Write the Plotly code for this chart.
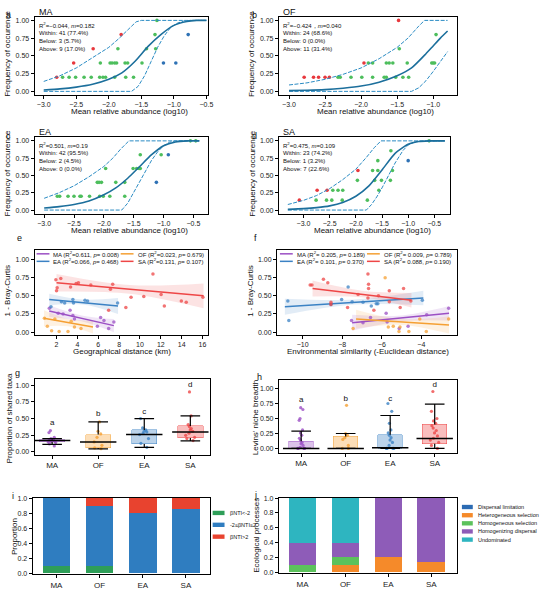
import plotly.graph_objects as go

W, H = 550, 595
FONT = "Liberation Sans, Arial, sans-serif"

# ---------------- data: a-d neutral community model ----------------
A_FIT_X = [-3.0, -2.75, -2.5, -2.25, -2.0, -1.8, -1.6, -1.4, -1.2, -1.0, -0.8, -0.65, -0.5]
A_FIT_Y = [0.02, 0.035, 0.06, 0.10, 0.17, 0.26, 0.42, 0.63, 0.80, 0.93, 0.985, 1.0, 1.0]
A_UP_X = [-3.0, -2.75, -2.5, -2.25, -2.0, -1.85, -1.7, -1.58, -1.5, -0.5]
A_UP_Y = [0.14, 0.22, 0.33, 0.47, 0.62, 0.74, 0.88, 0.98, 1.0, 1.0]
A_LO_X = [-3.0, -1.65, -1.55, -1.45, -1.35, -1.25, -1.15, -1.05, -0.95, -0.85, -0.75, -0.5]
A_LO_Y = [0.0, 0.0, 0.07, 0.22, 0.42, 0.62, 0.78, 0.90, 0.96, 0.99, 1.0, 1.0]
A_ABOVE_X = [-2.80, -2.54, -2.24, -1.81]
A_ABOVE_Y = [0.2, 0.4, 0.6, 0.8]
A_WITHIN_X = [-2.71, -2.61, -2.51, -2.38, -2.27, -2.14, -2.09, -2.05, -1.91, -1.74, -1.62,
              -2.13, -1.98, -1.95, -1.91, -1.88, -1.75, -1.71, -1.49,
              -1.86, -1.42, -1.28, -1.29, -1.26]
A_WITHIN_Y = [0.2] * 11 + [0.4] * 8 + [0.6, 0.6, 0.6, 0.8, 1.0]
A_BELOW_X = [-1.16, -0.97, -0.78]
A_BELOW_Y = [0.4, 0.4, 0.8]
A_STATS = ["R<sup>2</sup>=−0.044, <i>m</i>=0.182", "Within: 41 (77.4%)", "Below: 3 (5.7%)", "Above: 9 (17.0%)"]

B_FIT_X = [-3.0, -2.75, -2.5, -2.25, -2.0, -1.75, -1.5, -1.3, -1.1, -1.0, -0.9, -0.8]
B_FIT_Y = [0.01, 0.015, 0.025, 0.045, 0.075, 0.13, 0.22, 0.33, 0.53, 0.64, 0.75, 0.85]
B_UP_X = [-3.0, -2.75, -2.5, -2.25, -2.0, -1.75, -1.5, -1.35, -1.2, -1.12, -0.8]
B_UP_Y = [0.09, 0.12, 0.17, 0.24, 0.33, 0.46, 0.62, 0.75, 0.92, 1.0, 1.0]
B_LO_X = [-3.0, -1.3, -1.2, -1.1, -1.0, -0.9, -0.8]
B_LO_Y = [0.0, 0.0, 0.05, 0.15, 0.28, 0.42, 0.56]
B_ABOVE_X = [-2.79, -2.66, -2.59, -2.50, -2.44, -1.96, -1.48]
B_ABOVE_Y = [0.2, 0.2, 0.2, 0.2, 0.2, 0.4, 1.0]
B_WITHIN_X = [-2.32, -2.29, -2.14, -1.99, -1.84, -1.68, -1.65, -1.52, -1.42, -1.34,
              -1.90, -1.84, -1.65, -1.61, -1.56, -1.36, -1.02, -1.0, -0.98,
              -1.47, -0.96]
B_WITHIN_Y = [0.2] * 10 + [0.4] * 9 + [0.6, 0.8]
B_BELOW_X = []
B_BELOW_Y = []
B_STATS = ["R<sup>2</sup>=−0.424，<i>m</i>=0.040", "Within: 24 (68.6%)", "Below: 0 (0.0%)", "Above: 11 (31.4%)"]

C_FIT_X = [-3.0, -2.75, -2.5, -2.25, -2.0, -1.8, -1.6, -1.4, -1.2, -1.0, -0.8, -0.6, -0.4]
C_FIT_Y = [0.03, 0.05, 0.08, 0.13, 0.22, 0.32, 0.46, 0.63, 0.80, 0.93, 0.985, 1.0, 1.0]
C_UP_X = [-3.0, -2.75, -2.5, -2.25, -2.0, -1.85, -1.72, -1.62, -1.58, -0.4]
C_UP_Y = [0.17, 0.25, 0.35, 0.48, 0.63, 0.75, 0.88, 0.97, 1.0, 1.0]
C_LO_X = [-3.0, -1.7, -1.6, -1.5, -1.4, -1.3, -1.2, -1.1, -1.0, -0.9, -0.8, -0.4]
C_LO_Y = [0.0, 0.0, 0.1, 0.25, 0.41, 0.57, 0.72, 0.84, 0.93, 0.98, 1.0, 1.0]
C_ABOVE_X = []
C_ABOVE_Y = []
C_WITHIN_X = [-2.78, -2.74, -2.60, -2.50, -2.40, -2.38, -2.24, -2.07, -2.01, -1.90, -1.65,
              -2.11, -2.08, -2.04, -1.80, -1.65,
              -1.97, -1.51, -1.45, -1.41, -1.39,
              -1.39, -1.04, -0.55, -0.46]
C_WITHIN_Y = [0.2] * 11 + [0.4] * 5 + [0.6] * 5 + [0.8, 0.8, 1.0, 1.0]
C_BELOW_X = [-1.12, -0.92]
C_BELOW_Y = [0.4, 0.8]
C_STATS = ["R<sup>2</sup>=0.501, <i>m</i>=0.19", "Within: 42 (95.5%)", "Below: 2 (4.5%)", "Above: 0 (0.0%)"]

D_FIT_X = [-3.3, -3.0, -2.75, -2.5, -2.25, -2.0, -1.75, -1.5, -1.25, -1.0, -0.8, -0.6, -0.3]
D_FIT_Y = [0.01, 0.02, 0.035, 0.06, 0.11, 0.2, 0.35, 0.58, 0.82, 0.95, 0.99, 1.0, 1.0]
D_UP_X = [-3.3, -3.0, -2.75, -2.5, -2.25, -2.0, -1.8, -1.65, -1.52, -0.3]
D_UP_Y = [0.08, 0.14, 0.21, 0.31, 0.44, 0.59, 0.76, 0.9, 1.0, 1.0]
D_LO_X = [-3.3, -1.8, -1.7, -1.6, -1.5, -1.4, -1.25, -1.1, -1.0, -0.85, -0.3]
D_LO_Y = [0.0, 0.0, 0.08, 0.19, 0.32, 0.46, 0.68, 0.86, 0.94, 0.99, 1.0]
D_ABOVE_X = [-3.08, -2.74, -2.55, -1.96]
D_ABOVE_Y = [0.143, 0.286, 0.286, 0.571]
D_WITHIN_X = [-2.76, -2.56, -2.46, -2.26, -1.78,
              -2.44, -2.34, -2.25, -1.56,
              -1.97, -1.64, -1.51, -1.34,
              -1.68, -1.58, -1.30,
              -1.58, -1.33, -0.6]
D_WITHIN_Y = [0.143] * 5 + [0.286] * 4 + [0.429] * 4 + [0.571] * 3 + [0.714, 0.857, 1.0]
D_BELOW_X = [-1.0]
D_BELOW_Y = [0.714]
D_STATS = ["R<sup>2</sup>=0.475, <i>m</i>=0.109", "Within: 23 (74.2%)", "Below: 1 (3.2%)", "Above: 7 (22.6%)"]

# ---------------- data: e, f distance decay ----------------
GROUPS = ["MA", "OF", "EA", "SA"]
GROUP_RGB = [(155, 79, 196), (245, 160, 51), (59, 130, 196), (238, 70, 70)]

E_PTS_X = [
    [1.31, 2.16, 2.63, 3.3, 3.57, 3.72, 5.92, 6.23, 6.55, 7.0, 7.5],
    [0.84, 1.12, 1.53, 1.84, 2.25, 3.1, 3.41, 3.72, 4.35],
    [1.47, 2.47, 2.78, 3.57, 3.63, 4.73, 4.98, 7.86],
    [1.94, 2.41, 2.06, 2.0, 3.35, 3.88, 4.1, 5.29, 7.17, 7.39, 7.0, 8.65, 9.15, 10.37,
     11.25, 12.03, 12.34, 13.97, 14.44, 16.04],
]
E_PTS_Y = [
    [0.33, 0.26, 0.25, 0.30, 0.23, 0.18, 0.08, 0.20, 0.16, 0.05, 0.14],
    [0.19, 0.08, 0.02, 0.18, 0.01, 0.01, 0.15, 0.07, 0.05],
    [0.35, 0.42, 0.40, 0.45, 0.40, 0.44, 0.43, 0.40],
    [0.72, 0.74, 0.61, 0.57, 0.62, 0.67, 0.68, 0.65, 0.59, 0.66, 0.30, 0.34, 0.48, 0.49,
     0.80, 0.52, 0.36, 0.43, 0.41, 0.48],
]
E_LINE_X = [[1.3, 7.5], [0.8, 5.5], [1.3, 7.9], [2.0, 16.1]]
E_LINE_Y = [[0.29, 0.09], [0.19, 0.07], [0.45, 0.36], [0.68, 0.50]]
E_BAND_X = [[1.3, 4.4, 7.5], [0.8, 3.1, 5.5], [1.3, 4.5, 7.9], [2.0, 9.0, 16.1]]
E_BAND_LO = [[0.21, 0.15, 0.0], [0.08, 0.08, -0.02], [0.37, 0.38, 0.25], [0.56, 0.53, 0.33]]
E_BAND_HI = [[0.37, 0.23, 0.18], [0.30, 0.18, 0.16], [0.53, 0.45, 0.47], [0.80, 0.65, 0.67]]
E_LEGEND = ["MA (R<sup>2</sup>=0.611, <i>p</i>= 0.008)", "OF (R<sup>2</sup>=0.023, <i>p</i>= 0.679)",
            "EA (R<sup>2</sup>=0.066, <i>p</i>= 0.468)", "SA (R<sup>2</sup>=0.131, <i>p</i>= 0.107)"]

F_PTS_X = [
    [-7.53, -6.95, -6.57, -5.78, -5.73, -5.12, -4.67, -3.73, -2.62],
    [-7.45, -5.83, -5.67, -5.42, -5.08, -5.13, -4.63, -4.08, -3.75, -2.62],
    [-10.75, -10.7, -8.57, -8.03, -7.7, -7.5, -6.95, -6.53, -6.28, -6.2, -3.95],
    [-9.62, -9.53, -8.95, -8.73, -8.57, -8.57, -7.73, -7.2, -6.7, -6.67, -6.67, -6.7,
     -6.4, -6.17, -5.62, -5.62, -5.07, -4.9, -4.53],
]
F_PTS_Y = [
    [0.16, 0.13, 0.20, 0.26, 0.14, 0.05, 0.08, 0.24, 0.33],
    [0.05, 0.75, 0.07, 0.08, 0.07, 0.01, 0.01, 0.18, 0.01, 0.18],
    [0.43, 0.16, 0.38, 0.45, 0.62, 0.42, 0.41, 0.36, 0.39, 0.39, 0.44],
    [0.65, 0.65, 0.73, 0.68, 0.41, 0.38, 0.34, 0.52, 0.80, 0.66, 0.60, 0.47,
     0.30, 0.50, 0.57, 0.42, 0.34, 0.60, 0.43],
]
F_LINE_X = [[-7.5, -2.6], [-7.3, -2.6], [-10.9, -3.9], [-9.5, -4.5]]
F_LINE_Y = [[0.13, 0.26], [0.18, 0.10], [0.35, 0.47], [0.60, 0.44]]
F_BAND_X = [[-7.5, -5.0, -2.6], [-7.3, -5.0, -2.6], [-10.9, -7.4, -3.9], [-9.5, -7.0, -4.5]]
F_BAND_LO = [[0.02, 0.15, 0.16], [0.05, 0.10, -0.02], [0.24, 0.38, 0.37], [0.49, 0.48, 0.34]]
F_BAND_HI = [[0.24, 0.23, 0.36], [0.31, 0.18, 0.22], [0.46, 0.45, 0.57], [0.71, 0.57, 0.54]]
F_LEGEND = ["MA (R<sup>2</sup>= 0.205, <i>p</i>= 0.189)", "OF (R<sup>2</sup>= 0.009, <i>p</i>= 0.789)",
            "EA (R<sup>2</sup>= 0.101, <i>p</i>= 0.370)", "SA (R<sup>2</sup>= 0.088, <i>p</i>= 0.190)"]

# ---------------- data: g, h box plots ----------------
G_Q1 = [0.15, 0.06, 0.12, 0.21]
G_MED = [0.17, 0.15, 0.26, 0.30]
G_Q3 = [0.185, 0.26, 0.33, 0.39]
G_LO = [0.115, 0.045, 0.07, 0.165]
G_HI = [0.20, 0.45, 0.50, 0.54]
G_PTS = [
    [0.32, 0.29, 0.22, 0.20, 0.19, 0.18, 0.18, 0.17, 0.17, 0.16, 0.16, 0.15, 0.14, 0.12, 0.09],
    [0.45, 0.31, 0.27, 0.22, 0.15, 0.10, 0.06, 0.05],
    [0.50, 0.36, 0.33, 0.31, 0.30, 0.28, 0.26, 0.20, 0.13, 0.07],
    [0.90, 0.54, 0.41, 0.38, 0.35, 0.33, 0.31, 0.28, 0.25, 0.22, 0.20, 0.17],
]
G_LETTER_Y = [0.44, 0.57, 0.60, 1.0]

H_Q1 = [0.0, 0.0, 0.0, 0.08]
H_MED = [0.0, 0.0, 0.01, 0.165]
H_Q3 = [0.12, 0.20, 0.23, 0.40]
H_LO = [0.0, 0.0, 0.0, 0.0]
H_HI = [0.29, 0.25, 0.55, 0.74]
H_PTS = [
    [0.68, 0.65, 0.50, 0.47, 0.31, 0.26, 0.22, 0.17, 0.14, 0.10, 0.08, 0.05, 0.02, 0.0, 0.0, 0.0, 0.0],
    [0.72, 0.25, 0.22, 0.18, 0.15, 0.05, 0.0, 0.0],
    [0.75, 0.62, 0.42, 0.31, 0.26, 0.22, 0.18, 0.14, 0.10, 0.05, 0.0, 0.0, 0.0, 0.0],
    [0.95, 0.62, 0.50, 0.46, 0.42, 0.38, 0.34, 0.30, 0.26, 0.21, 0.17, 0.14, 0.10, 0.05, 0.0],
]
H_LETTER_Y = [0.80, 0.82, 0.82, 1.06]
LETTERS = ["a", "b", "c", "d"]

# ---------------- data: i, j stacked bars ----------------
I_NAMES = ["βNTI<-2", "-2≤βNTI≤2", "βNTI>2"]
I_COLORS = ["#2E9E58", "#2F7DC0", "#E8432F"]
I_VALUES = [
    [0.1, 0.1, 0.0, 0.0],
    [0.9, 0.8, 0.8, 0.86],
    [0.0, 0.1, 0.2, 0.14],
]
J_NAMES = ["Dispersal limitation", "Heterogeneous selection", "Homogeneous selection",
           "Homogenizing dispersal", "Undominated"]
J_COLORS = ["#2C6BB3", "#F58A2A", "#5CC25C", "#8E5CB8", "#2EB5C0"]
J_VALUES = [
    [0.0, 0.0, 0.0, 0.0],
    [0.0, 0.1, 0.2, 0.14],
    [0.1, 0.1, 0.0, 0.0],
    [0.3, 0.2, 0.8, 0.86],
    [0.6, 0.6, 0.0, 0.0],
]

RED, GREEN, BLUE = "#E8383D", "#4DBE5C", "#2F72B5"
FIT, BOUND = "#1C6F9C", "#2B8CC4"


def rgba(c, a):
    return "rgba(%d,%d,%d,%.2f)" % (c[0], c[1], c[2], a)


GROUP_COLORS = [rgba(c, 1) for c in GROUP_RGB]

fig = go.Figure()
annotations = []
shapes = []
axes = {}


def px(x, y):
    return x / W, 1 - y / H


def text(x, y, s, size=7, xanchor="center", yanchor="middle", angle=0):
    X, Y = px(x, y)
    annotations.append(dict(x=X, y=Y, xref="paper", yref="paper", text=s, showarrow=False,
                            xanchor=xanchor, yanchor=yanchor, textangle=angle, align="left",
                            font=dict(size=size, color="#111", family=FONT)))


def ids(k):
    return ("x", "y") if k == 1 else (f"x{k}", f"y{k}")


def add_axes(k, box, xr, yr, xkw=None, ykw=None):
    l, t, r, b = box
    xa, ya = ids(k)
    common = dict(showline=True, linecolor="black", linewidth=1, mirror=True, ticks="outside",
                  ticklen=3, tickwidth=0.8, tickcolor="black", showgrid=False, zeroline=False,
                  tickfont=dict(size=7, family=FONT, color="#222"))
    xd = dict(common)
    xd.update(xkw or {})
    yd = dict(common)
    yd.update(ykw or {})
    axes["xaxis" if k == 1 else f"xaxis{k}"] = dict(domain=[l / W, r / W], range=xr, anchor=ya, **xd)
    axes["yaxis" if k == 1 else f"yaxis{k}"] = dict(domain=[1 - b / H, 1 - t / H], range=yr, anchor=xa, **yd)


FREQ_TICKS = dict(tickvals=[0, 0.25, 0.5, 0.75, 1.0], tickformat=".2f")

# ---------------- a-d ----------------
ncm_panels = [
    (1, "MA", (35, 13, 210, 92), [-3.14, -0.48], [-3.0, -2.5, -2.0, -1.5, -1.0, -0.5],
     A_FIT_X, A_FIT_Y, A_UP_X, A_UP_Y, A_LO_X, A_LO_Y,
     A_ABOVE_X, A_ABOVE_Y, A_WITHIN_X, A_WITHIN_Y, A_BELOW_X, A_BELOW_Y, A_STATS),
    (2, "OF", (282, 13, 462, 92), [-3.14, -0.67], [-3.0, -2.5, -2.0, -1.5, -1.0],
     B_FIT_X, B_FIT_Y, B_UP_X, B_UP_Y, B_LO_X, B_LO_Y,
     B_ABOVE_X, B_ABOVE_Y, B_WITHIN_X, B_WITHIN_Y, B_BELOW_X, B_BELOW_Y, B_STATS),
    (3, "EA", (35, 135, 210, 212), [-3.16, -0.26], [-3.0, -2.5, -2.0, -1.5, -1.0, -0.5],
     C_FIT_X, C_FIT_Y, C_UP_X, C_UP_Y, C_LO_X, C_LO_Y,
     C_ABOVE_X, C_ABOVE_Y, C_WITHIN_X, C_WITHIN_Y, C_BELOW_X, C_BELOW_Y, C_STATS),
    (4, "SA", (282, 135, 455, 212), [-3.47, -0.2], [-3.0, -2.5, -2.0, -1.5, -1.0, -0.5],
     D_FIT_X, D_FIT_Y, D_UP_X, D_UP_Y, D_LO_X, D_LO_Y,
     D_ABOVE_X, D_ABOVE_Y, D_WITHIN_X, D_WITHIN_Y, D_BELOW_X, D_BELOW_Y, D_STATS),
]

for (k, name, box, xr, xt, fx, fy, ux, uy, lx, ly, ax_, ay_, wx, wy, bx, by, stats) in ncm_panels:
    xa, ya = ids(k)
    add_axes(k, box, xr, [-0.05, 1.05], dict(tickvals=xt, tickformat=".1f"), FREQ_TICKS)
    for cx, cy, col in ((wx, wy, GREEN), (ax_, ay_, RED), (bx, by, BLUE)):
        fig.add_trace(go.Scatter(x=cx, y=cy, mode="markers", xaxis=xa, yaxis=ya, showlegend=False,
                                 marker=dict(color=col, size=3.6)))
    fig.add_trace(go.Scatter(x=ux, y=uy, mode="lines", xaxis=xa, yaxis=ya, showlegend=False,
                             line=dict(color=BOUND, width=1, dash="4px,1.5px")))
    fig.add_trace(go.Scatter(x=lx, y=ly, mode="lines", xaxis=xa, yaxis=ya, showlegend=False,
                             line=dict(color=BOUND, width=1, dash="4px,1.5px")))
    fig.add_trace(go.Scatter(x=fx, y=fy, mode="lines", xaxis=xa, yaxis=ya, showlegend=False,
                             line=dict(color=FIT, width=1.6, shape="spline", smoothing=0.6)))
    l, t, r, b = box
    text(l + 2, t - 5, name, size=9, xanchor="left")
    text(l + 2, t + 2, "<br>".join(stats), size=6, xanchor="left", yanchor="top")
    text((l + r) / 2 + 8, b + 17, "Mean relative abundance (log10)", size=8)
    text(l - 27, (t + b) / 2 - 2, "Frequency of occurence", size=8, angle=-90)

# ---------------- e, f ----------------
decay_panels = [
    (5, (35, 249, 210, 335), [-0.1, 16.5], [2, 4, 6, 8, 10, 12, 14, 16],
     E_PTS_X, E_PTS_Y, E_LINE_X, E_LINE_Y, E_BAND_X, E_BAND_LO, E_BAND_HI, E_LEGEND,
     "Geographical distance (km)", (37, 122)),
    (6, (280, 249, 462, 335), [-11.3, -2.2], [-10, -8, -6, -4],
     F_PTS_X, F_PTS_Y, F_LINE_X, F_LINE_Y, F_BAND_X, F_BAND_LO, F_BAND_HI, F_LEGEND,
     "Environmental similarity (-Euclidean distance)", (283, 371)),
]
for (k, box, xr, xt, ptx, pty, lnx, lny, bdx, bdlo, bdhi, leg, xtitle, legx) in decay_panels:
    xa, ya = ids(k)
    add_axes(k, box, xr, [-0.04, 1.13], dict(tickvals=xt), FREQ_TICKS)
    for g in range(4):
        col = GROUP_COLORS[g]
        fig.add_trace(go.Scatter(x=bdx[g], y=bdlo[g], mode="lines", xaxis=xa, yaxis=ya, showlegend=False,
                                 line=dict(width=0, shape="spline", color=col)))
        fig.add_trace(go.Scatter(x=bdx[g], y=bdhi[g], mode="lines", xaxis=xa, yaxis=ya, showlegend=False,
                                 fill="tonexty", fillcolor=rgba(GROUP_RGB[g], 0.15),
                                 line=dict(width=0, shape="spline", color=col)))
    for g in range(4):
        col = GROUP_COLORS[g]
        fig.add_trace(go.Scatter(x=ptx[g], y=pty[g], mode="markers", xaxis=xa, yaxis=ya, showlegend=False,
                                 marker=dict(color=col, size=3.5, opacity=0.75)))
        fig.add_trace(go.Scatter(x=lnx[g], y=lny[g], mode="lines", xaxis=xa, yaxis=ya, showlegend=False,
                                 line=dict(color=col, width=1.5)))
    l, t, r, b = box
    for g in range(4):
        lx0 = legx[g % 2]
        ly = t + 3.8 + 7.6 * (g // 2)
        X0, Y0 = px(lx0, ly)
        X1, _ = px(lx0 + 13, ly)
        shapes.append(dict(type="line", xref="paper", yref="paper", x0=X0, x1=X1, y0=Y0, y1=Y0,
                           line=dict(color=GROUP_COLORS[g], width=1.5)))
        text(lx0 + 15, ly, leg[g], size=6, xanchor="left")
    text((l + r) / 2 + 1, b + 17, xtitle, size=8)
    text(l - 27, 290, "1 - Bray-Curtis", size=8, angle=-90)

# ---------------- g, h ----------------
BOX_FILL = [rgba(c, 0.35) for c in GROUP_RGB]
BOX_EDGE = [rgba(c, 0.6) for c in GROUP_RGB]
box_panels = [
    (7, (35, 379, 212, 456), [-0.38, 3.42], [-0.04, 1.10], G_Q1, G_MED, G_Q3, G_LO, G_HI, G_PTS,
     G_LETTER_Y, "Proportion of shared taxa", 10),
    (8, (282, 380, 462, 454), [-0.5, 3.5], [-0.07, 1.15], H_Q1, H_MED, H_Q3, H_LO, H_HI, H_PTS,
     H_LETTER_Y, "Levins' niche breadth", 258),
]
CAT_AXIS = dict(type="category", categoryorder="array", categoryarray=GROUPS,
                tickfont=dict(size=8, family=FONT, color="#222"))
for (k, box, xr, yr, q1, med, q3, lo, hi, pts, lety, ytitle, ytx) in box_panels:
    xa, ya = ids(k)
    add_axes(k, box, xr, yr, CAT_AXIS, FREQ_TICKS)
    fig.add_trace(go.Bar(x=GROUPS, y=[b - a for a, b in zip(q1, q3)], base=q1, width=0.55,
                         xaxis=xa, yaxis=ya, showlegend=False,
                         marker=dict(color=BOX_FILL, line=dict(color=BOX_EDGE, width=0.8))))
    for g in range(4):
        fig.add_trace(go.Box(x=[GROUPS[g]] * len(pts[g]), y=pts[g], boxpoints="all", jitter=0.8,
                             pointpos=0, width=0.3, xaxis=xa, yaxis=ya, showlegend=False,
                             line=dict(width=0, color="rgba(0,0,0,0)"), fillcolor="rgba(0,0,0,0)",
                             marker=dict(color=GROUP_COLORS[g], size=3.2, opacity=0.8)))
    wx, wy = [], []
    for c, a, b, lw, hw in zip(GROUPS, q1, q3, lo, hi):
        wx += [c, c, None, c, c, None]
        wy += [b, hw, None, a, lw, None]
    fig.add_trace(go.Scatter(x=wx, y=wy, mode="lines", xaxis=xa, yaxis=ya, showlegend=False,
                             line=dict(color="black", width=1.2)))
    fig.add_trace(go.Scatter(x=GROUPS + GROUPS, y=lo + hi, mode="markers", xaxis=xa, yaxis=ya,
                             showlegend=False,
                             marker=dict(symbol="line-ew", size=14, line=dict(color="black", width=1.2))))
    fig.add_trace(go.Scatter(x=GROUPS, y=med, mode="markers", xaxis=xa, yaxis=ya, showlegend=False,
                             marker=dict(symbol="line-ew", size=26, line=dict(color="black", width=1.5))))
    fig.add_trace(go.Scatter(x=GROUPS, y=lety, mode="text", text=LETTERS, xaxis=xa, yaxis=ya,
                             showlegend=False, textfont=dict(size=8, family=FONT, color="#111")))
    l, t, r, b = box
    text(ytx, (t + b) / 2 + 2, ytitle, size=8, angle=-90)

# ---------------- i, j ----------------
bar_panels = [
    (9, (33, 500, 212, 577), [-0.55, 3.55], I_NAMES, I_COLORS, I_VALUES, "Proportion", 14,
     (215, 227, 231), [515, 527, 539]),
    (10, (282, 500, 462, 576), [-0.55, 3.6], J_NAMES, J_COLORS, J_VALUES, "Ecological processes", 260,
     (467, 478, 481), [509, 517.3, 525.5, 533.7, 542]),
]
for (k, box, xr, names, cols, vals, ytitle, ytx, legx, legy) in bar_panels:
    xa, ya = ids(k)
    add_axes(k, box, xr, [-0.012, 1.0], CAT_AXIS,
             dict(tickvals=[0, 0.2, 0.4, 0.6, 0.8, 1.0], tickformat=".1f"))
    for name, col, v in zip(names, cols, vals):
        fig.add_trace(go.Bar(x=GROUPS, y=v, name=name, width=0.64, xaxis=xa, yaxis=ya, showlegend=False,
                             marker=dict(color=col, line=dict(width=0))))
    for name, col, yy in zip(names, cols, legy):
        X0, Y0 = px(legx[0], yy - 2.2)
        X1, Y1 = px(legx[1], yy + 2.2)
        shapes.append(dict(type="rect", xref="paper", yref="paper", x0=X0, x1=X1, y0=Y0, y1=Y1,
                           fillcolor=col, line=dict(width=0)))
        text(legx[2], yy, name, size=5.5, xanchor="left")
    l, t, r, b = box
    text(ytx, (t + b) / 2, ytitle, size=8, angle=-90)

# panel letters
for lab, x, y in [("a", 9, 11), ("b", 257, 11), ("c", 9, 134), ("d", 257, 134), ("e", 20, 237),
                  ("f", 258, 237), ("g", 18, 373), ("h", 262, 377), ("i", 13, 498), ("j", 258, 497)]:
    text(x, y, lab, size=9)

fig.update_layout(width=W, height=H, margin=dict(l=0, r=0, t=0, b=0), paper_bgcolor="white",
                  plot_bgcolor="white", barmode="stack", boxmode="overlay",
                  font=dict(family=FONT, size=7, color="#111"),
                  annotations=annotations, shapes=shapes, **axes)

fig.write_html("out.html", config={"displayModeBar": False},
               post_script="document.body.style.margin='0px';")
